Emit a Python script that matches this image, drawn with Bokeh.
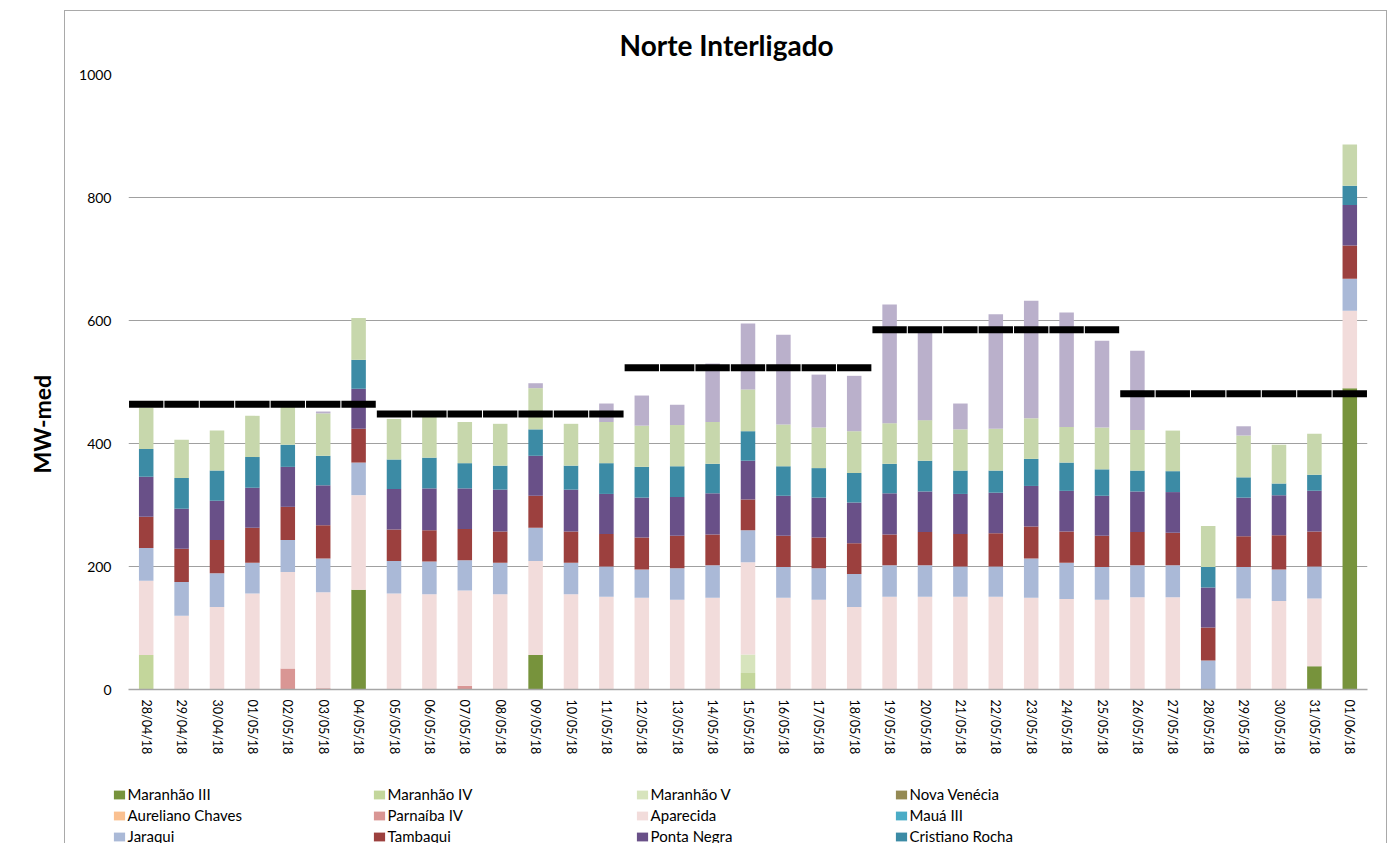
from bokeh.plotting import figure
from bokeh.models import (FactorRange, Range1d, Legend, LegendItem, Title, ColumnDataSource)
from bokeh.embed import file_html
from bokeh.resources import INLINE

dates = ["28/04/18", "29/04/18", "30/04/18", "01/05/18", "02/05/18", "03/05/18", "04/05/18",
         "05/05/18", "06/05/18", "07/05/18", "08/05/18", "09/05/18", "10/05/18", "11/05/18",
         "12/05/18", "13/05/18", "14/05/18", "15/05/18", "16/05/18", "17/05/18", "18/05/18",
         "19/05/18", "20/05/18", "21/05/18", "22/05/18", "23/05/18", "24/05/18", "25/05/18",
         "26/05/18", "27/05/18", "28/05/18", "29/05/18", "30/05/18", "31/05/18", "01/06/18"]

maranhao_iii = [0, 0, 0, 0, 0, 0, 162, 0, 0, 0, 0, 56, 0, 0, 0, 0, 0, 0, 0, 0, 0,
                0, 0, 0, 0, 0, 0, 0, 0, 0, 0, 0, 0, 38, 490]
maranhao_iv = [56, 0, 0, 0, 0, 0, 0, 0, 0, 0, 0, 0, 0, 0, 0, 0, 0, 27, 0, 0, 0,
               0, 0, 0, 0, 0, 0, 0, 0, 0, 0, 0, 0, 0, 0]
maranhao_v = [0, 0, 0, 0, 0, 0, 0, 0, 0, 0, 0, 0, 0, 0, 0, 0, 0, 30, 0, 0, 0,
              0, 0, 0, 0, 0, 0, 0, 0, 0, 0, 0, 0, 0, 0]
nova_venecia = [0, 0, 0, 0, 0, 0, 0, 0, 0, 0, 0, 0, 0, 0, 0, 0, 0, 0, 0, 0, 0,
                0, 0, 0, 0, 0, 0, 0, 0, 0, 0, 0, 0, 0, 0]
aureliano_chaves = [0, 0, 0, 0, 0, 0, 0, 0, 0, 0, 0, 0, 0, 0, 0, 0, 0, 0, 0, 0, 0,
                    0, 0, 0, 0, 0, 0, 0, 0, 0, 0, 0, 0, 0, 0]
parnaiba_iv = [0, 0, 0, 0, 34, 2, 0, 0, 0, 6, 0, 0, 0, 0, 0, 0, 0, 0, 0, 0, 0,
               0, 0, 0, 0, 0, 0, 0, 0, 0, 0, 0, 0, 0, 0]
aparecida = [121, 120, 134, 156, 157, 156, 154, 156, 155, 155, 155, 153, 155, 151, 149, 146, 149, 150, 149, 146, 134,
             151, 151, 151, 151, 149, 147, 146, 150, 150, 0, 148, 144, 110, 126]
maua_iii = [0, 0, 0, 0, 0, 0, 0, 0, 0, 0, 0, 0, 0, 0, 0, 0, 0, 0, 0, 0, 0,
            0, 0, 0, 0, 0, 0, 0, 0, 0, 0, 0, 0, 0, 0]
jaraqui = [53, 55, 55, 50, 52, 55, 53, 53, 53, 49, 51, 54, 51, 49, 46, 51, 53, 52, 50, 51, 54,
           51, 51, 49, 49, 64, 59, 53, 52, 52, 47, 51, 51, 52, 52]
tambaqui = [51, 54, 54, 57, 54, 54, 55, 51, 51, 51, 51, 52, 51, 53, 52, 53, 50, 50, 51, 50, 50,
            50, 54, 53, 54, 52, 51, 51, 54, 53, 54, 50, 56, 57, 54]
ponta_negra = [65, 65, 64, 65, 65, 65, 65, 66, 68, 66, 68, 65, 68, 65, 65, 63, 67, 63, 65, 65, 66,
               67, 66, 65, 66, 66, 66, 65, 66, 66, 65, 63, 65, 66, 66]
cristiano_rocha = [45, 50, 49, 50, 36, 48, 47, 48, 50, 41, 39, 43, 39, 50, 50, 50, 48, 48, 48, 48, 48,
                   48, 50, 38, 36, 44, 46, 43, 34, 34, 33, 33, 19, 26, 31]
manauara = [67, 62, 65, 67, 62, 69, 68, 66, 66, 67, 68, 67, 68, 67, 67, 67, 68, 68, 68, 66, 68,
            66, 66, 67, 68, 66, 58, 68, 66, 66, 67, 68, 63, 67, 67]
porto_itaqui = [0, 0, 0, 0, 0, 3, 0, 0, 0, 0, 0, 8, 0, 30, 49, 33, 95, 107, 146, 86, 90,
                193, 148, 42, 186, 191, 186, 141, 129, 0, 0, 15, 0, 0, 0]

# weekly reference (black dashes)
referencia = [464, 464, 464, 464, 464, 464, 464,
              448, 448, 448, 448, 448, 448, 448,
              523, 523, 523, 523, 523, 523, 523,
              585, 585, 585, 585, 585, 585, 585,
              481, 481, 481, 481, 481, 481, 481]

y_ticks = [0, 200, 400, 600, 800, 1000]

series_names = ["Maranhão III", "Maranhão IV", "Maranhão V", "Nova Venécia", "Aureliano Chaves",
                "Parnaíba IV", "Aparecida", "Mauá III", "Jaraqui", "Tambaqui", "Ponta Negra",
                "Cristiano Rocha", "Manauara", "Porto do Itaqui"]
series_values = [maranhao_iii, maranhao_iv, maranhao_v, nova_venecia, aureliano_chaves,
                 parnaiba_iv, aparecida, maua_iii, jaraqui, tambaqui, ponta_negra,
                 cristiano_rocha, manauara, porto_itaqui]
colors = ["#77933C", "#C3D69B", "#D7E4BD", "#948A54", "#FAC090", "#D99694", "#F2DCDB",
          "#4BACC6", "#AAB9D7", "#9C403E", "#695088", "#3C8BA5", "#C7D7AC", "#BAB0CB"]

keys = ["s%d" % i for i in range(len(series_names))]
data = {"date": dates, "ref": referencia}
for k, v in zip(keys, series_values):
    data[k] = v
source = ColumnDataSource(data)

FONT = "Lato"
BORDER = "1.5px solid #a9a9a9"

main_css = """
:host { position: relative; }
:host::after {
  content: ""; position: absolute;
  left: 64px; top: 10px; right: 3px; bottom: 0px;
  border-left: %s; border-top: %s; border-right: %s;
  pointer-events: none;
}
""" % (BORDER, BORDER, BORDER)

legend_css = """
:host { position: relative; }
:host::after {
  content: ""; position: absolute;
  left: 64px; top: 0px; right: 3px; bottom: 0px;
  border-left: %s; border-right: %s;
  pointer-events: none;
}
""" % (BORDER, BORDER)

MAIN_H = 770
p = figure(x_range=FactorRange(*dates, range_padding=0, factor_padding=0),
           y_range=Range1d(0, 1000),
           width=1390, height=MAIN_H, output_backend="svg", toolbar_location=None,
           min_border_left=128, min_border_right=23, min_border_top=74,
           min_border_bottom=MAIN_H - 689, stylesheets=[main_css])
p.outline_line_color = None
p.background_fill_color = "white"
p.border_fill_color = "white"

p.title.text = "Norte Interligado"
p.title.align = "left"
p.title.offset = 491
p.title.standoff = 26
p.title.text_font = FONT
p.title.text_font_style = "bold"
p.title.text_font_size = "28px"
p.title.text_color = "black"

renderers = p.vbar_stack(keys, x="date", width=0.41, color=colors, line_color=None, source=source)

p.rect(x="date", y="ref", width=0.97, height=7, height_units="screen",
       fill_color="black", line_color=None, source=source)

p.xgrid.grid_line_color = None
p.ygrid.grid_line_color = "#a0a0a0"
p.ygrid.grid_line_width = 1

ya = p.yaxis[0]
ya.ticker = y_ticks
ya.axis_line_color = None
ya.major_tick_line_color = None
ya.minor_tick_line_color = None
ya.major_tick_out = 0
ya.major_label_standoff = 17
ya.major_label_text_font = FONT
ya.major_label_text_font_size = "14px"
ya.major_label_text_color = "black"

xa = p.xaxis[0]
xa.axis_line_color = "#a6a6a6"
xa.axis_line_width = 1.5
xa.major_tick_line_color = None
xa.minor_tick_line_color = None
xa.major_tick_out = 0
xa.major_label_standoff = 10
xa.major_label_orientation = "vertical"
xa.major_label_text_font = FONT
xa.major_label_text_font_size = "12.5px"
xa.major_label_text_color = "black"

ytitle = Title(text="MW-med", align="left", offset=216, standoff=42,
               text_font=FONT, text_font_style="bold", text_font_size="23px",
               text_color="black")
p.add_layout(ytitle, "left")

# legend strip below the chart (separate root, so its frame is not aligned to the chart's)
LEG_H = 843 - MAIN_H
q = figure(x_range=Range1d(0, 1), y_range=Range1d(0, 1), width=1390, height=LEG_H,
           output_backend="svg", toolbar_location=None, x_axis_type=None, y_axis_type=None,
           min_border_left=0, min_border_right=0, min_border_top=0, min_border_bottom=0,
           stylesheets=[legend_css])
q.outline_line_color = None
q.grid.visible = False
q.title.visible = False
q.background_fill_color = "white"
q.border_fill_color = "white"

# legend swatch renderers: one bar each, placed outside the visible range
legend_renderers = [q.vbar(x=[5], top=[1], width=0.4, fill_color=c, line_color=None) for c in colors]

columns = [[0, 4, 8], [1, 5, 9], [2, 6, 10], [3, 7, 11]]
col_x = [111.6, 371.6, 634.6, 893.6]
for cx, idxs in zip(col_x, columns):
    items = [LegendItem(label=series_names[i], renderers=[legend_renderers[i]]) for i in idxs]
    leg = Legend(items=items, location=(cx, -2), orientation="vertical",
                 padding=0, margin=0, spacing=3, label_height=18, label_standoff=2,
                 glyph_width=14, glyph_height=11, border_line_color=None,
                 background_fill_alpha=0, label_text_font=FONT,
                 label_text_font_size="15px", label_text_color="black")
    q.add_layout(leg)

open("out.html", "w").write(file_html([p, q], INLINE))
